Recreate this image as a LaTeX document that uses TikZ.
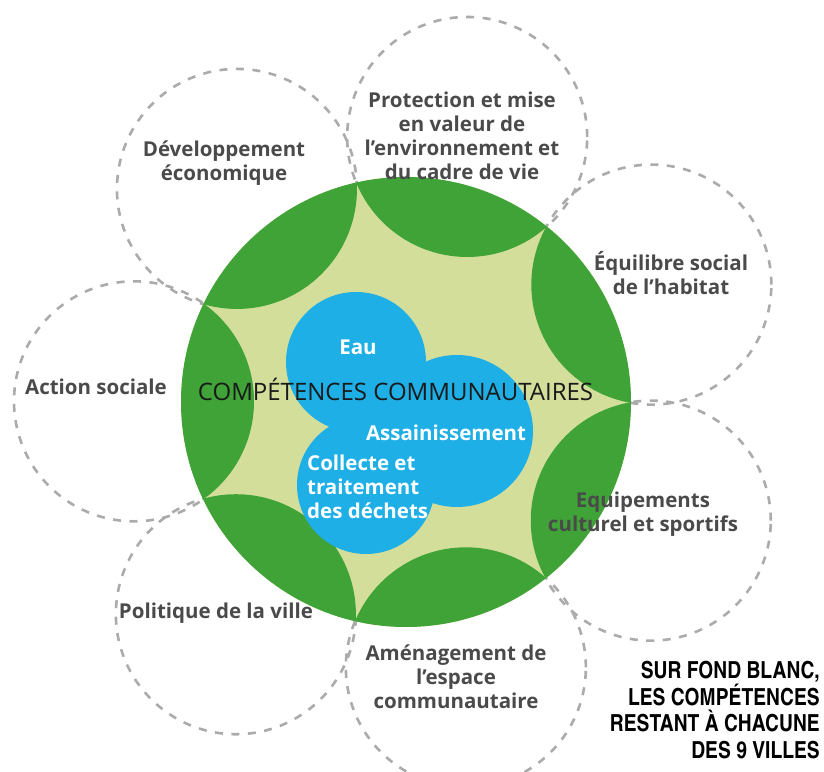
\documentclass[tikz,border=0pt]{standalone}
\usepackage{fontspec}
\setmainfont{Open Sans}
\newfontfamily\condfont{texgyreheroscn}[Extension=.otf, UprightFont=*-regular, BoldFont=*-bold]
\usepackage{tikz}
\definecolor{PaleGreen}{HTML}{D4DE9B}
\definecolor{LeafGreen}{HTML}{3FA337}
\definecolor{WaterBlue}{HTML}{1DAFE6}
\definecolor{DashGray}{HTML}{ABABAB}
\definecolor{LabelGray}{HTML}{4A4A4A}

\begin{document}
\begin{tikzpicture}[x=1pt,y=1pt,
  every node/.style={font=\bfseries\fontsize{20.5}{24}\selectfont, text=LabelGray, align=center, inner sep=0pt},
  ring/.style={draw=DashGray, line width=2.6pt, dash pattern=on 8pt off 8.5pt}]
  \useasboundingbox (-406,-369) rectangle (418,402);
  % seven dashed rings around the disc
  \foreach \k in {0,...,6}
    \draw[ring] ({77+\k*51.4286}:272) circle[radius=120];
  % disc and the dark lunes where the rings bite into it
  \fill[PaleGreen] (0,0) circle[radius=225];
  \begin{scope}
    \clip (0,0) circle[radius=225];
    \foreach \k in {0,...,6}
      \fill[LeafGreen] ({77+\k*51.4286}:272) circle[radius=120];
  \end{scope}
  \fill[WaterBlue] (-50,40) circle[radius=70] (51,-29) circle[radius=76] (-40,-83) circle[radius=69];
  \node[text=white, anchor=base] (eau) at (-48,48) {Eau};
  \node[text=white, anchor=base] (assain) at (40,-38.7) {Assainissement};
  \node[text=white, anchor=west, align=left] (dechets) at (-99,-85) {Collecte et\\traitement\\des déchets};
  \node[font=\fontsize{24}{28}\selectfont, text=black!90, anchor=base] (titre) at (-10.5,2) {COMPÉTENCES COMMUNAUTAIRES};
  % labels in the rings
  \node (prot) at (56,266) {Protection et mise\\en valeur de\\l'environnement et\\du cadre de vie};
  \node (dev) at (-182,238.5) {Développement\\économique};
  \node (action) at (-310,15) {Action sociale};
  \node (polit) at (-190,-211) {Politique de la ville};
  \node (amenag) at (50,-274.5) {Aménagement de\\l'espace\\communautaire};
  \node (equip) at (237,-112.5) {Equipements\\culturel et sportifs};
  \node (equil) at (265,128.5) {Équilibre social\\de l'habitat};
  \node[font=\condfont\bfseries\fontsize{23.5}{26.7}\selectfont, text=black, align=right, anchor=east] (note) at (414,-308)
    {SUR FOND BLANC,\\LES COMPÉTENCES\\RESTANT À CHACUNE\\DES 9 VILLES};
\end{tikzpicture}
\end{document}
